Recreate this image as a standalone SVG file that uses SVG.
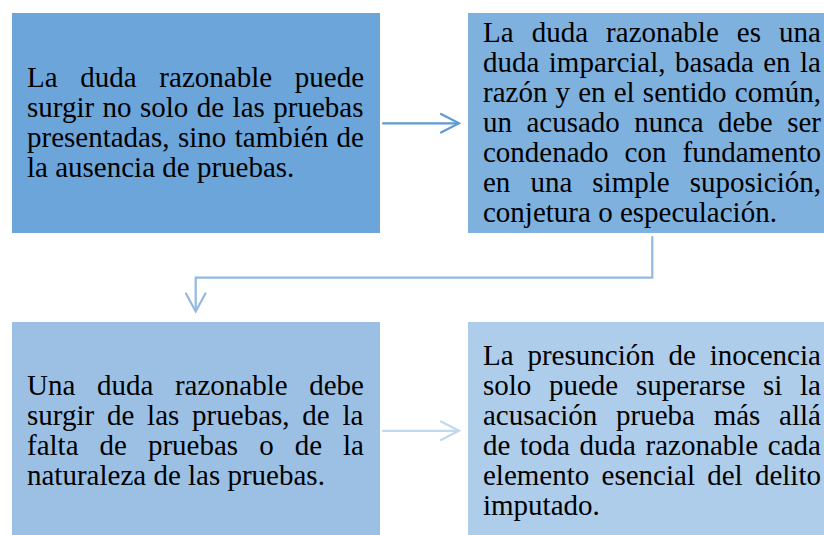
<svg xmlns="http://www.w3.org/2000/svg" width="824" height="535" viewBox="0 0 824 535">
<style>
  text { font-family: "Liberation Serif", "Times New Roman", serif; font-size: 29px; fill: #000; }
  .conn { fill: none; stroke-width: 2.2; stroke-linecap: round; stroke-linejoin: miter; }
</style>
<rect width="824" height="535" fill="#fff"/>
<g id="connectors">
  <g stroke="#5F9BD5" class="conn">
    <path d="M383 123.3 H458"/>
    <path d="M441 114 L459 123.3 L441 132.6"/>
  </g>
  <g stroke="#93B8E2" class="conn">
    <path d="M652.3 237 V277.6 H195.7 V310"/>
    <path d="M186 293.5 L195.7 311.5 L205.4 293.5"/>
  </g>
  <g stroke="#C2D8EF" class="conn">
    <path d="M383 430.8 H458"/>
    <path d="M441 421.5 L459 430.8 L441 440"/>
  </g>
</g>
<g id="node1">
  <rect x="12" y="13" width="368" height="220" fill="#6CA5DA"/>
  <text x="27" y="86.7" style="word-spacing:15.45px">La duda razonable puede</text>
  <text x="27" y="116.7" style="word-spacing:1.19px">surgir no solo de las pruebas</text>
  <text x="27" y="146.7" style="word-spacing:1.18px">presentadas, sino también de</text>
  <text x="27" y="176.7">la ausencia de pruebas.</text>
</g>
<g id="node2">
  <rect x="468" y="13" width="356" height="220" fill="#7FB1DF"/>
  <text x="483" y="42" style="word-spacing:10.82px">La duda razonable es una</text>
  <text x="483" y="72" style="word-spacing:2.15px">duda imparcial, basada en la</text>
  <text x="483" y="102" style="word-spacing:0.91px">razón y en el sentido común,</text>
  <text x="483" y="132" style="word-spacing:7.2px">un acusado nunca debe ser</text>
  <text x="483" y="162" style="word-spacing:8.75px">condenado con fundamento</text>
  <text x="483" y="192" style="word-spacing:12.78px">en una simple suposición,</text>
  <text x="483" y="222">conjetura o especulación.</text>
</g>
<g id="node3">
  <rect x="12" y="322" width="368" height="213" fill="#9BC0E4"/>
  <text x="27" y="394.5" style="word-spacing:14.35px">Una duda razonable debe</text>
  <text x="27" y="424.5" style="word-spacing:5.55px">surgir de las pruebas, de la</text>
  <text x="27" y="454.5" style="word-spacing:13.77px">falta de pruebas o de la</text>
  <text x="27" y="484.5">naturaleza de las pruebas.</text>
</g>
<g id="node4">
  <rect x="468" y="322" width="356" height="213" fill="#AECDEB"/>
  <text x="483" y="365" style="word-spacing:6.62px">La presunción de inocencia</text>
  <text x="483" y="395" style="word-spacing:10.4px">solo puede superarse si la</text>
  <text x="483" y="425" style="word-spacing:11.45px">acusación prueba más allá</text>
  <text x="483" y="455" style="word-spacing:2.37px">de toda duda razonable cada</text>
  <text x="483" y="485" style="word-spacing:5.02px">elemento esencial del delito</text>
  <text x="483" y="515">imputado.</text>
</g>
</svg>
